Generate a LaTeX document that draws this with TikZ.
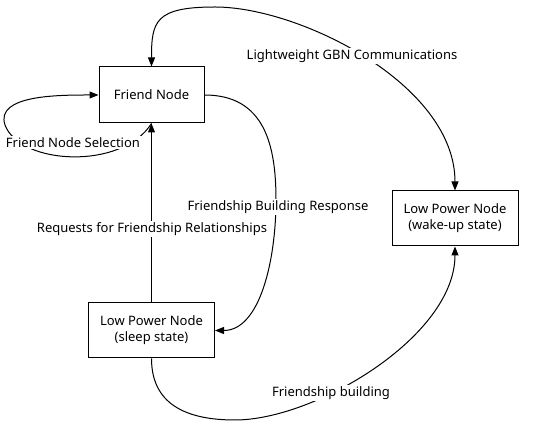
\documentclass[tikz,border=0pt]{standalone}
\usepackage{fontspec}
\setmainfont{Noto Sans}
\usetikzlibrary{arrows.meta,positioning}

\begin{document}
\begin{tikzpicture}[
  x=1pt, y=1pt,
  box/.style={draw, line width=1pt, minimum height=55pt, minimum width=126pt, align=center, font=\fontsize{13}{16}\selectfont},
  lbl/.style={fill=white, inner sep=1.5pt, font=\fontsize{13}{15}\selectfont},
  arr/.style={-{Triangle[length=9pt,width=7pt]}, line width=1pt},
  node distance=179pt
]
  \useasboundingbox (0,0) rectangle (550,425);

  \node[box, minimum width=105pt, minimum height=56pt] (friend) at (151.5,330) {Friend Node};
  \node[box, below=of friend] (sleep) {Low Power Node\\(sleep state)};
  \node[box] (wake) at (455,206.5) {Low Power Node\\(wake-up state)};

  \draw[arr] (friend.south) .. controls +(-30,-47) and +(15,-40) .. (5,300)
    .. controls +(-10,30) and +(-40,0) .. (friend.west);
  \draw[arr] (sleep) -- (friend);
  \draw[arr] (friend.east) .. controls +(60,0) and +(0,55) .. (276,225)
    .. controls +(0,-60) and +(45,0) .. (sleep.east);
  \draw[{Triangle[length=9pt,width=7pt]}-{Triangle[length=9pt,width=7pt]}, line width=1pt]
    (friend.north) .. controls +(0,45) and +(-60,0) .. (215,418)
    .. controls +(85,0) and +(0,106) .. (wake.north);
  \draw[arr] (sleep.south) .. controls +(0,-45) and +(-50,0) .. (235,5)
    .. controls +(80,0) and +(0,-90) .. (wake.south);

  \node[lbl] (sel) at (73,282) {Friend Node Selection};
  \node[lbl] (req) at (152,196) {Requests for Friendship Relationships};
  \node[lbl] (resp) at (278,218) {Friendship Building Response};
  \node[lbl] (gbn) at (352,369) {Lightweight GBN Communications};
  \node[lbl] (build) at (331,32) {Friendship building};
\end{tikzpicture}
\end{document}
